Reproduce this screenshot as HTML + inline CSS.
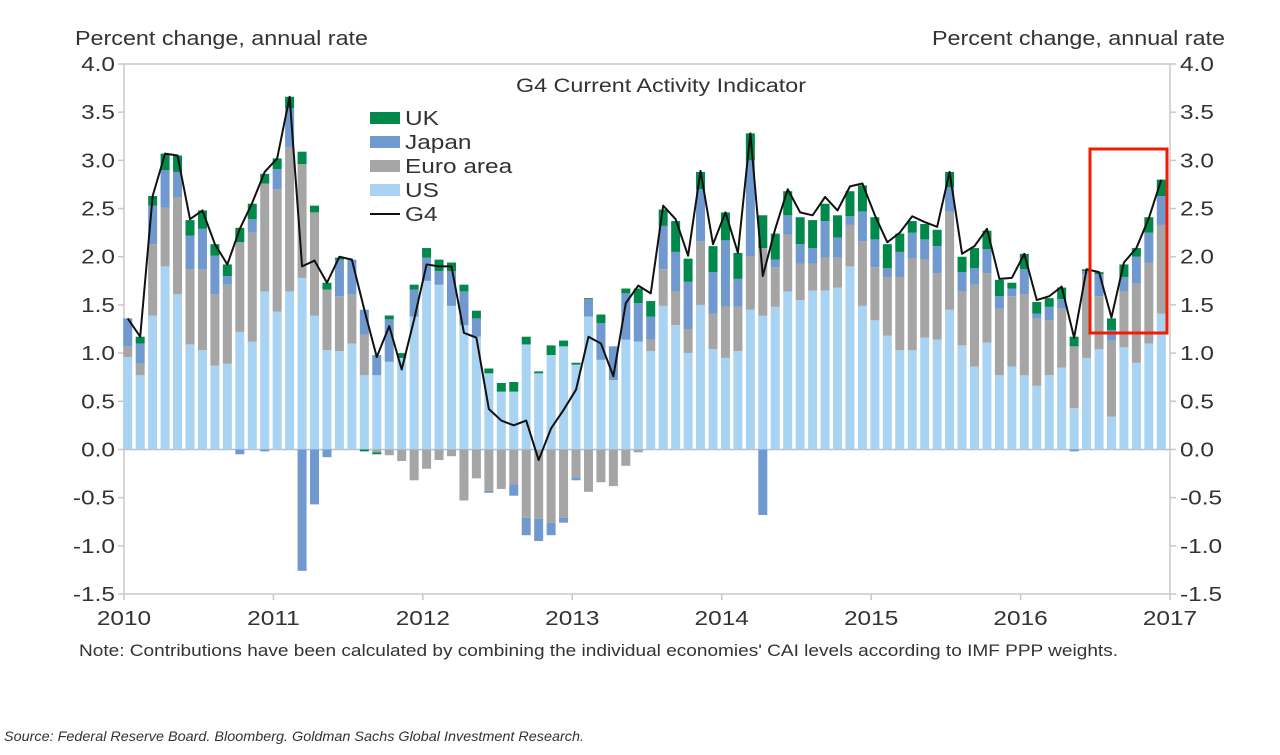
<!DOCTYPE html>
<html><head><meta charset="utf-8"><style>
body{margin:0;background:#fff;width:1280px;height:750px;overflow:hidden;font-family:"Liberation Sans",sans-serif}
svg text{font-family:"Liberation Sans",sans-serif;fill:#333}
</style></head><body>
<svg id="chart" width="1280" height="750" xmlns="http://www.w3.org/2000/svg">
<text x="75" y="45" font-size="20" textLength="293" lengthAdjust="spacingAndGlyphs">Percent change, annual rate</text>
<text x="932" y="45" font-size="20" textLength="293" lengthAdjust="spacingAndGlyphs">Percent change, annual rate</text>
<text x="516" y="92" font-size="19" textLength="290" lengthAdjust="spacingAndGlyphs">G4 Current Activity Indicator</text>
<g id="grid"></g>
<g id="bars"></g>
<g id="line"></g>
<g>
<rect x="370" y="112" width="30" height="12" fill="#00894b"/><text class="wide" x="405" y="125" font-size="20">UK</text>
<rect x="370" y="136" width="30" height="12" fill="#7099cf"/><text class="wide" x="405" y="149" font-size="20">Japan</text>
<rect x="370" y="160" width="30" height="12" fill="#a5a5a5"/><text class="wide" x="405" y="173" font-size="20">Euro area</text>
<rect x="370" y="184" width="30" height="12" fill="#a9d3f2"/><text class="wide" x="405" y="197" font-size="20">US</text>
<line x1="370" y1="214" x2="400" y2="214" stroke="#111" stroke-width="2"/><text class="wide" x="405" y="221" font-size="20">G4</text>
</g>
<rect x="1090" y="149" width="77" height="184" fill="none" stroke="#f21a00" stroke-width="3"/>
<text x="79" y="656" font-size="17" textLength="1039" lengthAdjust="spacingAndGlyphs">Note: Contributions have been calculated by combining the individual economies' CAI levels according to IMF PPP weights.</text>
<text x="4" y="741" font-size="14" font-style="italic" textLength="580" lengthAdjust="spacingAndGlyphs">Source: Federal Reserve Board. Bloomberg. Goldman Sachs Global Investment Research.</text>
</svg>
<script>
const us=[.96,.77,1.39,1.90,1.61,1.09,1.03,.87,.89,1.22,1.12,1.64,1.43,1.64,1.78,1.39,1.03,1.02,1.10,.77,.77,.91,.95,1.38,1.75,1.71,1.49,1.29,1.17,.79,.60,.60,1.09,.79,.98,1.07,.88,1.38,.93,.72,1.14,1.12,1.02,1.49,1.29,1.00,1.50,1.04,.95,1.02,1.45,1.39,1.48,1.64,1.55,1.65,1.65,1.68,1.90,1.49,1.34,1.18,1.03,1.03,1.16,1.14,1.45,1.08,.86,1.11,.77,.86,.77,.66,.77,.85,.43,.95,1.04,.34,1.06,.90,1.10,1.41];
const euro=[.11,.12,.74,.61,1.01,.78,.84,.74,.82,.93,1.13,1.12,1.27,1.50,1.18,1.07,.63,.57,.51,.42,-.03,-.06,-.12,-.32,-.20,-.11,-.07,-.53,-.30,-.43,-.41,-.36,-.71,-.72,-.76,-.71,-.29,-.44,-.34,-.38,-.17,-.03,.12,.38,.35,.25,.66,.37,.53,.46,.55,.70,.41,.59,.38,.28,.34,.31,.43,.67,.55,.61,.76,.95,.81,.69,1.02,.56,.85,.72,.69,.73,.84,.70,.57,.61,.64,.87,.55,.79,.58,.82,.84,.92];
const japan=[.29,.21,.40,.39,.26,.35,.42,.40,.09,-.05,.14,-.02,.21,.40,-1.26,-.57,-.08,.38,.36,.26,.21,.44,0,.28,.24,.14,.36,.35,.19,-.02,0,-.12,-.18,-.23,-.13,-.05,-.03,.18,.38,.35,.48,.40,.24,.45,.41,.49,.54,.43,.69,.29,1.00,-.68,.08,.20,.20,.16,.38,.21,.09,.31,.29,.09,.26,.27,.21,.28,.25,.20,.17,.25,.13,.08,.26,.05,.14,.10,-.02,.03,.23,.11,.15,.28,.31,.30];
const uk=[0,.07,.10,.17,.17,.16,.19,.12,.12,.15,.16,.10,.11,.12,.13,.07,.07,.02,0,-.02,-.02,.04,.05,.05,.10,.12,.09,.07,.08,.05,.09,.10,.08,.02,.10,.06,.02,.01,.09,0,.05,.15,.16,.17,.32,.24,.18,.27,.29,.27,.28,.34,.27,.25,.28,.29,.18,.23,.26,.27,.23,.25,.19,.12,.16,.17,.16,.16,.21,.19,.17,.06,.16,.12,.09,.12,.10,.02,.02,.12,.13,.09,.16,.17];
const g4=[1.36,1.17,2.63,3.07,3.05,2.39,2.48,2.13,1.92,2.29,2.56,2.88,3.02,3.66,1.90,1.96,1.73,2.00,1.97,1.45,0.96,1.28,0.83,1.35,1.92,1.90,1.90,1.21,1.16,0.42,0.30,0.25,0.30,-0.11,0.22,0.41,0.62,1.17,1.10,0.76,1.52,1.70,1.62,2.53,2.39,2.01,2.89,2.13,2.46,2.04,3.28,1.80,2.29,2.70,2.46,2.43,2.62,2.48,2.73,2.76,2.43,2.15,2.25,2.42,2.36,2.31,2.88,2.03,2.11,2.29,1.77,1.78,2.03,1.55,1.59,1.69,1.16,1.87,1.84,1.37,1.94,2.09,2.40,2.80];
const yTicks=["4.0","3.5","3.0","2.5","2.0","1.5","1.0","0.5","0.0","-0.5","-1.0","-1.5"];
const years=["2010","2011","2012","2013","2014","2015","2016","2017"];

const NS="http://www.w3.org/2000/svg";
const X0=124,X1=1170,Y4=64,Yn=594,n=us.length;
const step=(X1-X0)/84;
function y(v){return Y4+(4-v)*(Yn-Y4)/5.5;}
function xc(i){return X0+step*(i+0.3);}
function mk(tag,at,parent){const e=document.createElementNS(NS,tag);for(const k in at)e.setAttribute(k,at[k]);parent.appendChild(e);return e;}
const grid=document.getElementById('grid'),bars=document.getElementById('bars'),lineG=document.getElementById('line');
let fr=mk('rect',{x:X0,y:Y4,width:X1-X0,height:Yn-Y4,fill:'none',stroke:'#c8c8c8','stroke-width':1.5},grid);


yTicks.forEach(t=>{const v=parseFloat(t),yy=y(v);
 let a=mk('line',{x1:X0-6,x2:X0,y1:yy,y2:yy,stroke:'#c8c8c8','stroke-width':1.5},grid);
 
 
 let b=mk('line',{x1:X1,x2:X1+6,y1:yy,y2:yy,stroke:'#c8c8c8','stroke-width':1.5},grid);
 
 
 let l=mk('text',{x:X0-9,y:yy+7,'font-size':20,'text-anchor':'end','class':'wide'},grid);l.textContent=t;
 
 
 let r=mk('text',{x:X1+10,y:yy+7,'font-size':20,'class':'wide'},grid);r.textContent=t;
 
 
});
years.forEach((t,k)=>{const xx=X0+k*step*12;
 let a=mk('line',{x1:xx,x2:xx,y1:Yn,y2:Yn+6,stroke:'#c8c8c8','stroke-width':1.5},grid);
 
 
 let l=mk('text',{x:xx,y:Yn+31,'font-size':20,'text-anchor':'middle','class':'wide'},grid);l.textContent=t;
 
 
});
const series=[[us,'#a9d3f2','us'],[euro,'#a5a5a5','euro'],[japan,'#7099cf','japan'],[uk,'#00894b','uk']];
const bw=9;
for(let i=0;i<n;i++){let pos=0,neg=0;
 series.forEach(([arr,col,nm])=>{const v=arr[i];if(v===0)return;let a,b;
  if(v>0){a=pos;b=pos+v;pos=b;}else{a=neg;b=neg+v;neg=b;}
  const r=mk('rect',{x:xc(i)-bw/2,width:bw,y:Math.min(y(a),y(b)),height:Math.abs(y(a)-y(b)),fill:col},bars);
  
  
 });
}
let z=mk('line',{x1:X0,x2:X1,y1:y(0),y2:y(0),stroke:'#bdbdbd','stroke-width':1.5},grid);


const p=mk('polyline',{points:g4.map((v,i)=>xc(i)+','+y(v)).join(' '),fill:'none',stroke:'#111','stroke-width':2,'stroke-linejoin':'round'},lineG);


document.querySelectorAll('text.wide').forEach(t=>{const w=t.getComputedTextLength();t.setAttribute('textLength',(w*1.22).toFixed(1));t.setAttribute('lengthAdjust','spacingAndGlyphs');});
</script>
</body></html>
